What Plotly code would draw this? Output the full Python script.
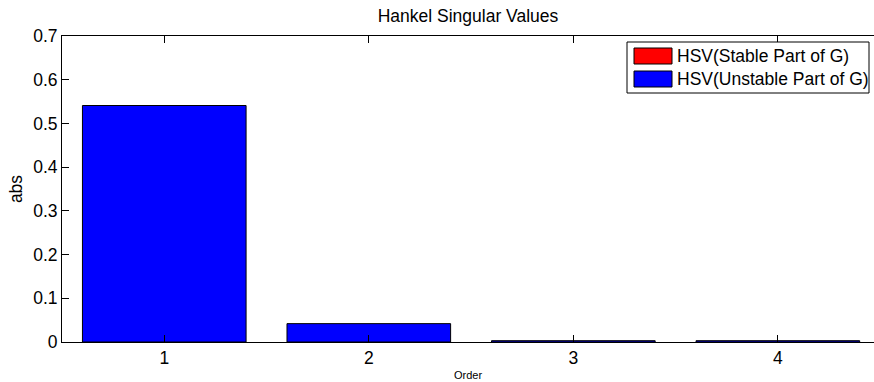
import plotly.graph_objects as go

# Hankel singular values of the stable / unstable parts of G
orders = [1, 2, 3, 4]
stable_hsv = []
unstable_hsv = [0.541, 0.042, 0.003, 0.003]
y_ticks = [0, 0.1, 0.2, 0.3, 0.4, 0.5, 0.6, 0.7]
x_ticks = [1, 2, 3, 4]

legend_names = ["HSV(Stable Part of G)", "HSV(Unstable Part of G)"]
legend_colors = ["#ff0000", "#0000ff"]

W, H = 874, 382
L, R, T, B = 62, 0, 36, 40
FONT = "Liberation Sans, Arial, sans-serif"
FS = 17.5

fig = go.Figure()
fig.add_trace(go.Bar(x=[], y=stable_hsv, name=legend_names[0], width=0.8,
                     marker=dict(color=legend_colors[0], line=dict(color="black", width=1)),
                     showlegend=False))
fig.add_trace(go.Bar(x=orders, y=unstable_hsv, name=legend_names[1], width=0.8,
                     marker=dict(color=legend_colors[1], line=dict(color="black", width=1)),
                     showlegend=False))
# invisible trace that carries the top axis
fig.add_trace(go.Scatter(x=orders, y=[None] * 4, xaxis="x2", showlegend=False,
                         hoverinfo="skip", mode="markers"))

pw, ph = W - L - R, H - T - B


def px_x(px):
    return (px - L) / pw


def px_y(py):
    return (H - B - py) / ph


# hand-drawn legend box
shapes = [dict(type="rect", xref="paper", yref="paper",
               x0=px_x(627), x1=px_x(869), y0=px_y(93), y1=px_y(42),
               line=dict(color="black", width=1), fillcolor="white", layer="above")]
annotations = []
for i, (name, col) in enumerate(zip(legend_names, legend_colors)):
    top = 48 + i * 23
    shapes.append(dict(type="rect", xref="paper", yref="paper",
                       x0=px_x(634), x1=px_x(672), y0=px_y(top + 16), y1=px_y(top),
                       line=dict(color="black", width=1), fillcolor=col, layer="above"))
    annotations.append(dict(xref="paper", yref="paper", x=px_x(675), y=px_y(top + 8),
                            text=name, showarrow=False, xanchor="left", yanchor="middle",
                            font=dict(family=FONT, size=FS, color="black")))

fig.update_layout(
    width=W, height=H,
    margin=dict(l=L, r=R, t=T, b=B, pad=0),
    paper_bgcolor="white", plot_bgcolor="white",
    font=dict(family=FONT, color="black"),
    title=dict(text="Hankel Singular Values", x=(L + pw / 2) / W, xanchor="center",
               y=1 - 16 / H, yanchor="middle", font=dict(size=FS, color="black")),
    xaxis=dict(range=[0.5, 4.47], tickmode="array", tickvals=x_ticks,
               ticks="inside", ticklen=7, tickcolor="black",
               showline=True, linecolor="black", linewidth=1, showgrid=False,
               zeroline=False, tickfont=dict(size=FS),
               title=dict(text="Order", font=dict(size=11), standoff=4)),
    xaxis2=dict(overlaying="x", side="top", matches="x", range=[0.5, 4.47],
                tickmode="array", tickvals=x_ticks, ticks="inside", ticklen=7,
                tickcolor="black", showticklabels=False, showline=True,
                linecolor="black", linewidth=1, showgrid=False, zeroline=False),
    yaxis=dict(range=[0, 0.7], tickmode="array", tickvals=y_ticks,
               ticktext=[f"{v:g}" for v in y_ticks],
               ticks="inside", ticklen=7, tickcolor="black",
               showline=True, linecolor="black", linewidth=1, showgrid=False,
               zeroline=False, tickfont=dict(size=FS),
               title=dict(text="abs", font=dict(size=FS), standoff=6)),
    shapes=shapes, annotations=annotations,
    bargap=0.2,
)

fig.write_html("out.html")
